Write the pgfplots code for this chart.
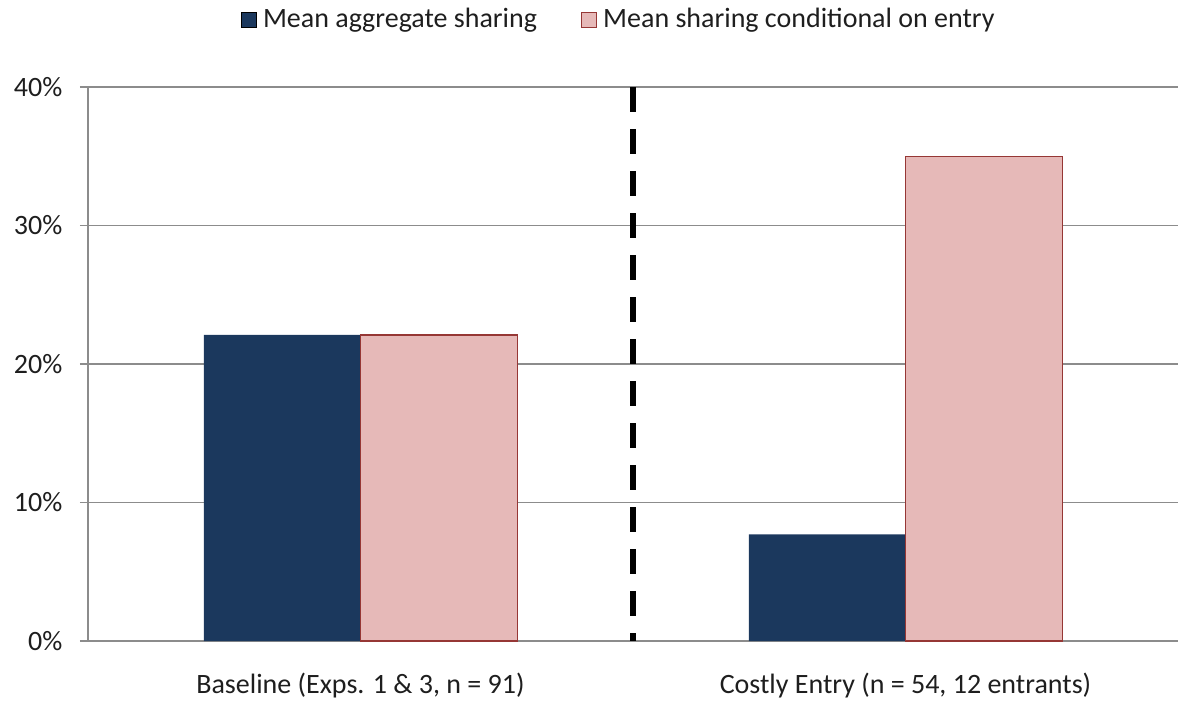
\documentclass[border=0pt]{standalone}
\usepackage{pgfplots}
\pgfplotsset{compat=1.18}
\usepackage{fontspec}
\setmainfont{Carlito}
\definecolor{navy}{RGB}{27,56,93}
\definecolor{pinkfill}{RGB}{230,185,184}
\definecolor{pinkedge}{RGB}{150,55,53}
\definecolor{gridgray}{RGB}{140,140,140}
\definecolor{txt}{RGB}{30,30,30}
\begin{document}
\fontsize{14}{16}\selectfont
\begin{tikzpicture}
\begin{axis}[
  at={(0,0)}, anchor=south west,
  scale only axis, width=545pt, height=277pt,
  xmin=-0.5, xmax=1.5, ymin=0, ymax=40,
  axis lines*=left,
  axis line style={gridgray, line width=0.6pt},
  xtick={0,1},
  xticklabels={{Baseline (Exps. 1 \& 3, n = 91)}, {Costly Entry (n = 54, 12 entrants)}},
  x tick style={draw=none},
  xticklabel style={font=\fontsize{14}{16}\selectfont, text=txt, yshift=-7pt},
  ytick={0,10,20,30,40},
  yticklabel={\pgfmathprintnumber{\tick}\%},
  /pgf/number format/assume math mode=true,
  yticklabel style={font=\fontsize{14}{16}\selectfont, text=txt, xshift=-4pt},
  y tick style={gridgray, line width=0.6pt},
  tick align=outside, major tick length=4pt,
  ymajorgrids, grid style={gridgray, line width=0.6pt},
  bar width=0.2875,
  legend columns=2,
  legend image code/.code={\draw[#1] (0pt,-3.75pt) rectangle (7.5pt,3.75pt);},
  legend style={draw=none, fill=none, at={(0.488,1.121)}, anchor=center,
    font=\fontsize{14}{16}\selectfont, text=txt,
    /tikz/every odd column/.append style={column sep=1pt},
    /tikz/every even column/.append style={column sep=20pt}},
  clip=false,
]
\addplot[ybar, bar shift=-0.14375, fill=navy, draw=none] coordinates {(0,22.1) (1,7.7)};
\addlegendentry{Mean aggregate sharing}
\addplot[ybar, bar shift=0.14375, fill=pinkfill, draw=pinkedge, line width=0.6pt] coordinates {(0,22.1) (1,35.0)};
\addlegendentry{Mean sharing conditional on entry}
\addplot[black, line width=3pt, dash pattern=on 12.5pt off 8.5pt, forget plot] coordinates {(0.5,40) (0.5,0)};
\end{axis}
\pgfresetboundingbox
\useasboundingbox (-44pt,-33pt) rectangle (546pt,320.5pt);
\end{tikzpicture}
\end{document}
